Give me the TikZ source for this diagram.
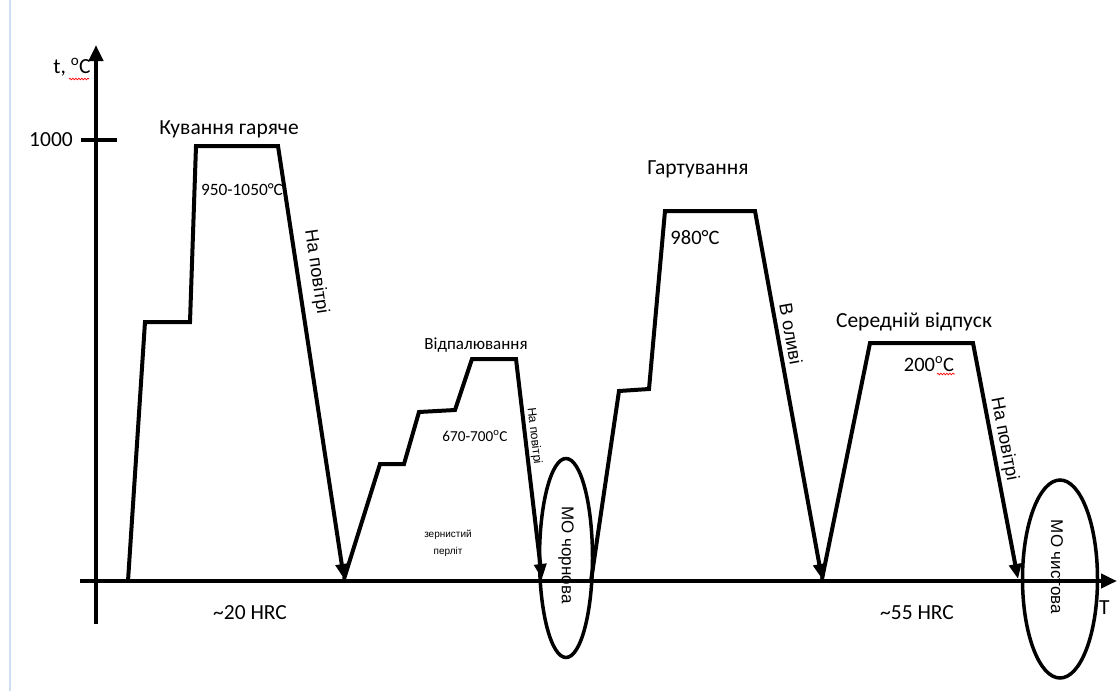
\documentclass[tikz,border=0pt]{standalone}
\usepackage{fontspec}
\setmainfont{Carlito}
\newfontfamily\arialf{Liberation Sans}
\usetikzlibrary{arrows.meta,decorations.pathmorphing,shapes.geometric}
\definecolor{marginblue}{RGB}{205,222,245}
\begin{document}
\begin{tikzpicture}[x=1pt,y=-1pt,
  curve/.style={line width=4pt, line join=miter},
  axisline/.style={line width=4pt},
  tipcurve/.style={-{Triangle[length=15pt,width=12pt]}},
  oval/.style={line width=3.5pt},
  lbl/.style={inner sep=0pt, font=\fontsize{21.5}{24}\selectfont},
  mid/.style={inner sep=0pt, font=\fontsize{17.3}{20}\selectfont},
  rot/.style={inner sep=0pt, font=\arialf\fontsize{17}{20}\selectfont},
  rotair/.style={inner sep=0pt, font=\arialf\fontsize{18.3}{21}\selectfont},
  rotsmall/.style={inner sep=0pt, font=\arialf\fontsize{12.2}{14}\selectfont},
  tiny/.style={inner sep=0pt, align=center, font=\arialf\fontsize{10}{17}\selectfont},
  squig/.style={red, line width=0.7pt, decorate, decoration={snake, segment length=3pt, amplitude=0.8pt}}
]
\useasboundingbox (0,0) rectangle (1117,691);
% margin line
\coordinate (m1) at (10,0); \coordinate (m2) at (10,691);
\draw[marginblue, line width=1.2pt] (m1) -- (m2);

% axes
\coordinate (yb) at (96,624); \coordinate (yt) at (96,45);
\coordinate (xl) at (80,581); \coordinate (xr) at (1117,581);
\draw[axisline, -{Triangle[length=16pt,width=14pt]}] (yb) -- (yt);
\draw[axisline, -{Triangle[length=16pt,width=14pt]}] (xl) -- (xr);
\coordinate (t1) at (81,140); \coordinate (t2) at (117,140);
\draw[axisline] (t1) -- (t2);
\node[lbl, anchor=east] (n1000) at (73,140) {1000};
\node[lbl] (tC) at (72,67) {t, \textsuperscript{o}C};
\coordinate (sq1a) at (69,79); \coordinate (sq1b) at (89,79);
\draw[squig] (sq1a) -- (sq1b);
\node[lbl, anchor=west] (T) at (1099,608) {T};

% forging
\coordinate (f0) at (128,581);
\coordinate (f1) at (145,322);
\coordinate (f2) at (190,322);
\coordinate (f3) at (196,146);
\coordinate (f4) at (278,146);
\coordinate (f5) at (344,579);
\draw[curve, tipcurve] (f0) -- (f1) -- (f2) -- (f3) -- (f4) -- (f5);
\node[lbl] (forge) at (229,129) {Кування гаряче};
\node[mid] (forgeT) at (242,190) {950-1050°C};
\node[rotair, rotate=-81.7] (air1) at (316,272) {На повітрі};

% annealing
\coordinate (a1) at (380,464);
\coordinate (a2) at (404,464);
\coordinate (a3) at (419,412);
\coordinate (a4) at (455,410);
\coordinate (a5) at (472,359);
\coordinate (a6) at (516,359);
\coordinate (a7) at (542,579);
\draw[curve, tipcurve] (f5) -- (a1) -- (a2) -- (a3) -- (a4) -- (a5) -- (a6) -- (a7);
\node[inner sep=0pt, font=\fontsize{17}{20}\selectfont] (anneal) at (476,345) {Відпалювання};
\node[inner sep=0pt, font=\fontsize{15.2}{18}\selectfont] (annealT) at (475,436) {670-700\textsuperscript{o}C};
\node[rotsmall, rotate=-83.3] (air2) at (534,436) {На повітрі};
\node[tiny] (perl) at (448,543) {зернистий\\перліт};

% rough machining
\node[oval, draw, ellipse, minimum width=53pt, minimum height=199pt, inner sep=0pt] (mo1) at (566,558) {};
\node[rot, rotate=-90] (mo1t) at (566,555) {МО чорнова};

% quenching
\coordinate (q0) at (591,581);
\coordinate (q1) at (619,391);
\coordinate (q2) at (649,389);
\coordinate (q3) at (665,211);
\coordinate (q4) at (755,211);
\coordinate (q5) at (822,579);
\draw[curve, tipcurve] (q0) -- (q1) -- (q2) -- (q3) -- (q4) -- (q5);
\node[lbl] (quench) at (698,169) {Гартування};
\node[inner sep=0pt, font=\fontsize{20.5}{23}\selectfont] (quenchT) at (695,238) {980°C};
\node[rotair, rotate=-79.7] (oil) at (791,334) {В оливі};

% tempering
\coordinate (p1) at (870,343);
\coordinate (p2) at (973,343);
\coordinate (p3) at (1018,579);
\draw[curve, tipcurve] (q5) -- (p1) -- (p2) -- (p3);
\node[lbl] (temper) at (914,322) {Середній відпуск};
\node[inner sep=0pt, font=\fontsize{20.5}{23}\selectfont] (temperT) at (929,364) {200\textsuperscript{o}C};
\coordinate (sq2a) at (937,374); \coordinate (sq2b) at (955,374);
\draw[squig] (sq2a) -- (sq2b);
\node[rotair, rotate=-79.2] (air3) at (1004,439) {На повітрі};

% finish machining
\node[oval, draw, ellipse, minimum width=75pt, minimum height=198pt, inner sep=0pt] (mo2) at (1060,579) {};
\node[rot, rotate=-90] (mo2t) at (1057,567) {МО чистова};

% hardness
\node[lbl] (h20) at (250,613) {\textasciitilde 20 HRC};
\node[lbl] (h55) at (917,613) {\textasciitilde 55 HRC};
\end{tikzpicture}
\end{document}
